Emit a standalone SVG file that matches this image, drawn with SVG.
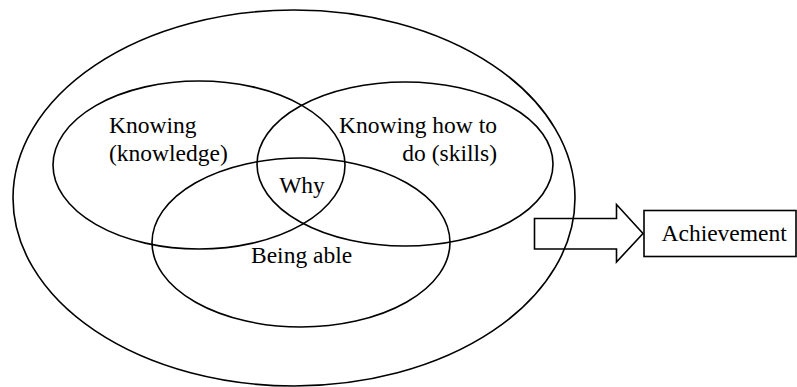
<svg xmlns="http://www.w3.org/2000/svg" width="797" height="387" viewBox="0 0 797 387">
  <style>
    .shape { fill: none; stroke: #000; stroke-width: 1.6; }
    .box { fill: #fff; stroke: #000; stroke-width: 1.6; }
    .label { font-family: "Liberation Serif", "Times New Roman", serif; font-size: 23.5px; fill: #000; }
  </style>
  <rect width="797" height="387" fill="#fff"/>
  <g id="outer">
    <ellipse class="shape" cx="294" cy="198" rx="281" ry="188"/>
  </g>
  <g id="knowing">
    <ellipse class="shape" cx="199" cy="165" rx="146" ry="84"/>
    <text class="label" x="109" y="133">Knowing</text>
    <text class="label" x="109" y="161">(knowledge)</text>
  </g>
  <g id="skills">
    <ellipse class="shape" cx="405" cy="164" rx="148" ry="82"/>
    <text class="label" x="497" y="133" text-anchor="end">Knowing how to</text>
    <text class="label" x="497" y="161" text-anchor="end">do (skills)</text>
  </g>
  <g id="being-able">
    <ellipse class="shape" cx="301" cy="242.5" rx="149" ry="84.5"/>
    <text class="label" x="251" y="263">Being able</text>
  </g>
  <g id="why">
    <text class="label" x="302" y="193" text-anchor="middle">Why</text>
  </g>
  <g id="connectors">
    <!-- outline-only block arrow; the outer ellipse shows through it -->
    <polygon class="shape" points="534.5,218.5 616.5,218.5 616.5,204.5 643,233.5 616.5,262 616.5,249 534.5,249"/>
  </g>
  <g id="achievement">
    <rect class="box" x="644" y="210.5" width="152" height="46"/>
    <text class="label" x="661.5" y="241">Achievement</text>
  </g>
</svg>
